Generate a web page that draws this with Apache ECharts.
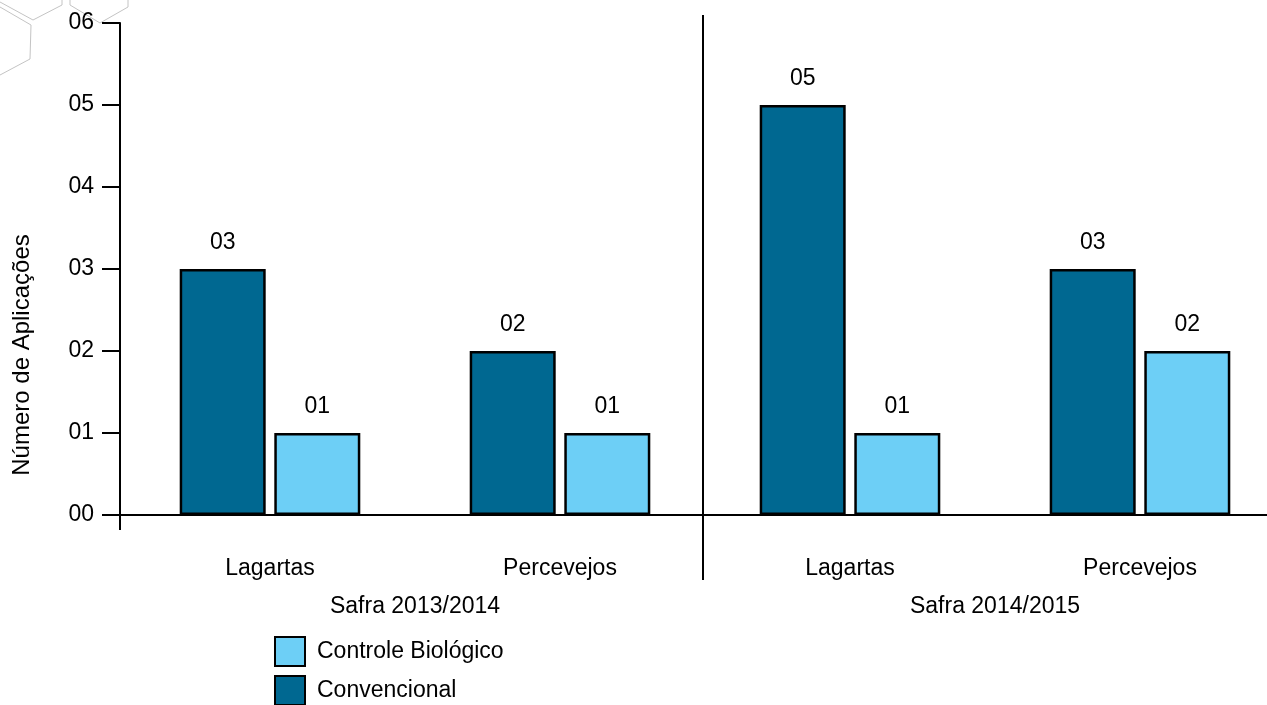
<!DOCTYPE html>
<html>
<head>
<meta charset="utf-8">
<script src="https://cdn.jsdelivr.net/npm/echarts@6/dist/echarts.min.js"></script>
<style>
  html, body { margin: 0; padding: 0; background: #fff; }
  #chart { width: 1267px; height: 705px; }
</style>
</head>
<body>
<div id="chart"></div>
<script>
// Pest groups per harvest season
const categories = ['Lagartas', 'Percevejos', 'Lagartas', 'Percevejos'];
const seasons = ['Safra 2013/2014', 'Safra 2014/2015'];
// Number of applications per treatment
const convencional = [3, 2, 5, 3];
const controleBiologico = [1, 1, 1, 2];
const yTicks = [0, 1, 2, 3, 4, 5, 6];

const FONT = '"Liberation Sans", Arial, Helvetica, sans-serif';
const pad2 = v => (v < 10 ? '0' : '') + v;

const chart = echarts.init(document.getElementById('chart'), null, { renderer: 'canvas' });

const barLabel = {
  show: true,
  position: 'top',
  distance: 15,
  color: '#000',
  fontSize: 23,
  fontFamily: FONT,
  formatter: p => pad2(p.value)
};

// One legend box per entry, stacked vertically
const legendBox = (name, top) => ({
  left: 274,
  top: top,
  padding: 0,
  itemWidth: 30,
  itemHeight: 29,
  icon: 'rect',
  data: [name],
  itemStyle: { borderColor: '#000', borderWidth: 2 },
  textStyle: { color: '#000', fontSize: 23, fontFamily: FONT, padding: [0, 0, 0, 7] }
});

chart.setOption({
  animation: false,
  backgroundColor: '#fff',
  grid: { left: 125, top: 23, right: -18, bottom: 190, containLabel: false, outerBoundsMode: 'none' },
  xAxis: [
    {
      type: 'category',
      data: categories,
      axisLine: { lineStyle: { color: '#000', width: 2 } },
      axisTick: { show: false },
      axisLabel: { color: '#000', fontSize: 23, fontFamily: FONT, margin: 42 }
    },
    {
      type: 'category',
      data: seasons,
      position: 'bottom',
      axisLine: { show: false },
      axisTick: { show: false },
      axisLabel: { color: '#000', fontSize: 23, fontFamily: FONT, margin: 80 }
    }
  ],
  yAxis: {
    type: 'value',
    min: yTicks[0],
    max: yTicks[yTicks.length - 1],
    interval: 1,
    offset: 5,
    axisLine: { show: true, lineStyle: { color: '#000', width: 2 } },
    axisTick: { show: true, length: 18, lineStyle: { color: '#000', width: 2 } },
    splitLine: { show: false },
    axisLabel: { color: '#000', fontSize: 23, fontFamily: FONT, margin: 26, formatter: v => pad2(v) }
  },
  legend: [
    legendBox('Controle Biológico', 636),
    legendBox('Convencional', 675)
  ],
  series: [
    {
      name: 'Convencional',
      type: 'bar',
      data: convencional,
      barWidth: 86,
      barGap: '10%',
      itemStyle: { color: '#006891', borderColor: '#000', borderWidth: 2.5 },
      label: barLabel
    },
    {
      name: 'Controle Biológico',
      type: 'bar',
      data: controleBiologico,
      barWidth: 86,
      barGap: '10%',
      itemStyle: { color: '#6dcff6', borderColor: '#000', borderWidth: 2.5 },
      label: barLabel
    }
  ]
});

// Axis extensions, season divider, axis title and corner ornament
const origin = chart.convertToPixel({ xAxisIndex: 0, yAxisIndex: 0 }, [0, 0]);
const yZero = origin[1];
const yTop = chart.convertToPixel({ yAxisIndex: 0 }, 6);
const xLeftGrid = 125;
const yAxisX = 120;
const divX = (chart.convertToPixel({ xAxisIndex: 0 }, 1) + chart.convertToPixel({ xAxisIndex: 0 }, 2)) / 2 - 2;

const hexStyle = { stroke: '#c4c4c4', lineWidth: 1, fill: null };

chart.setOption({
  graphic: [
    { type: 'line', shape: { x1: 113, y1: yZero, x2: xLeftGrid, y2: yZero }, style: { stroke: '#000', lineWidth: 2 } },
    { type: 'line', shape: { x1: yAxisX, y1: yZero, x2: yAxisX, y2: yZero + 15 }, style: { stroke: '#000', lineWidth: 2 } },
    { type: 'line', shape: { x1: divX, y1: yTop - 8, x2: divX, y2: yZero + 65 }, style: { stroke: '#000', lineWidth: 2 } },
    {
      type: 'text',
      x: 22,
      y: (yTop + yZero) / 2 + 86,
      rotation: Math.PI / 2,
      style: {
        text: 'Número de Aplicações',
        fill: '#000',
        font: '24px ' + FONT,
        align: 'center',
        verticalAlign: 'middle'
      }
    },
    { type: 'polyline', shape: { points: [[0, 2], [33, 20], [62, 5], [62, 0]] }, style: hexStyle },
    { type: 'polyline', shape: { points: [[0, 7], [31, 25], [30, 59], [0, 75]] }, style: hexStyle },
    { type: 'polyline', shape: { points: [[70, 0], [70, 5], [100, 23], [128, 7], [128, 0]] }, style: hexStyle }
  ]
});
</script>
</body>
</html>
